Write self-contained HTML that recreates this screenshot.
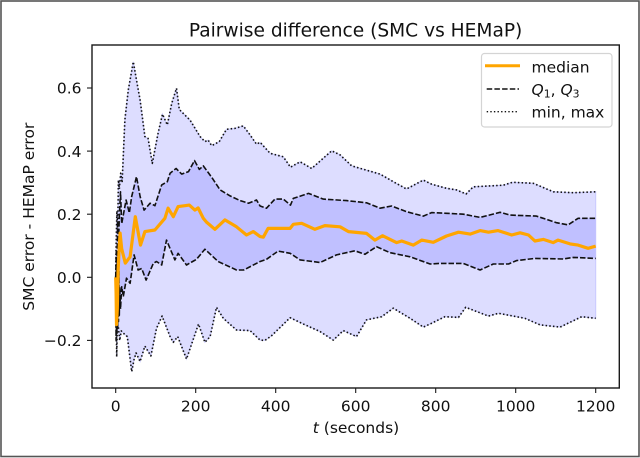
<!DOCTYPE html>
<html lang="en">
<head>
<meta charset="utf-8">
<title>Pairwise difference (SMC vs HEMaP)</title>
<style>
html,body{margin:0;padding:0;background:#fff;}
body{width:640px;height:458px;overflow:hidden;}
svg{display:block;filter:blur(0.35px);}
text{font-family:"DejaVu Sans","Liberation Sans",sans-serif;fill:#111;}
</style>
</head>
<body>
<svg id="chart" width="640" height="458" viewBox="0 0 640 458" xmlns="http://www.w3.org/2000/svg">
  <rect x="1" y="1" width="638" height="455.5" fill="#fff" stroke="#555" stroke-width="1.6"/>
  <g id="bands"></g>
  <g id="lines"></g>
  <rect x="92" y="45" width="527.3" height="343" fill="none" stroke="#1a1a1a" stroke-width="1.4"/>
  <g id="ticks"></g>
  <text x="355.6" y="36.7" text-anchor="middle" font-size="18.6">Pairwise difference (SMC vs HEMaP)</text>
  <text x="356" y="433" text-anchor="middle" font-size="15.5"><tspan font-style="italic">t</tspan> (seconds)</text>
  <text transform="translate(34,216.7) rotate(-90)" text-anchor="middle" font-size="15.5">SMC error - HEMaP error</text>
  <g>
    <rect x="481.5" y="53.5" width="130.5" height="73.5" rx="3" fill="#fff" fill-opacity="0.85" stroke="#d4d4d4" stroke-width="1.2"/>
    <line x1="485" y1="65.7" x2="520" y2="65.7" stroke="#ffa500" stroke-width="3"/>
    <text x="531.5" y="72.3" font-size="15.5">median</text>
    <line x1="486.7" y1="89" x2="519" y2="89" stroke="#111" stroke-width="1.4" stroke-dasharray="5.5,2.2"/>
    <text x="531.5" y="95" font-size="15.5"><tspan font-style="italic">Q</tspan><tspan font-size="10.8" dy="2.5">1</tspan><tspan dy="-2.5">, </tspan><tspan font-style="italic">Q</tspan><tspan font-size="10.8" dy="2.5">3</tspan></text>
    <line x1="486.7" y1="111.7" x2="519" y2="111.7" stroke="#111" stroke-width="1.4" stroke-dasharray="1.4,2.2"/>
    <text x="531.5" y="117.7" font-size="15.5">min, max</text>
  </g>
</svg>
<script>
var xTickLabels = [0, 200, 400, 600, 800, 1000, 1200];
var yTickLabels = [-0.2, 0, 0.2, 0.4, 0.6];

var maxTimes = [0,1,3,5,6.7,9,12.5,16,23,31.5,44,52,61,73,81,91.5,106,117,129,140,152,159,186,211,223,231,240,259,277,298,319,336,352,361,386,419,437,461,490,540,561,590,661,694,727,769,790,827,852,876,894,969,992,1044,1094,1144,1200];
var maxValues = [0,0.1,0.21,0.15,0.308,0.28,0.33,0.3,0.5,0.594,0.683,0.625,0.562,0.446,0.44,0.361,0.457,0.517,0.483,0.551,0.599,0.532,0.498,0.446,0.43,0.435,0.417,0.43,0.469,0.472,0.48,0.451,0.422,0.428,0.393,0.382,0.349,0.366,0.345,0.401,0.388,0.353,0.327,0.303,0.28,0.308,0.295,0.282,0.277,0.264,0.287,0.292,0.301,0.298,0.271,0.268,0.271];

var q3Times = [0,1.5,3,5,7,9,12,15,19,26,34,40,52,61,71,86,98,115,129,136,151,165,182,197,209,219,240,261,286,311,332,352,361,377,398,419,437,444,482,519,577,627,661,690,727,769,790,827,869,911,961,986,1052,1102,1131,1156,1200];
var q3Values = [0,0.08,0.03,0.17,0.11,0.192,0.271,0.17,0.197,0.245,0.204,0.256,0.319,0.256,0.213,0.235,0.227,0.293,0.303,0.33,0.345,0.327,0.335,0.37,0.342,0.353,0.317,0.277,0.258,0.243,0.235,0.245,0.226,0.219,0.248,0.248,0.229,0.25,0.266,0.248,0.243,0.236,0.219,0.226,0.208,0.194,0.205,0.203,0.2,0.19,0.206,0.197,0.194,0.173,0.166,0.187,0.187];

var medianTimes = [0,1,2,4,6,9,11,15,24,36,49,62,73,98,123,131,144,156,173,184,198,206,219,227,248,273,302,327,344,361,369,381,436,444,465,498,523,561,582,627,648,667,702,715,744,765,794,827,857,886,911,932,956,990,1011,1032,1048,1069,1094,1106,1136,1156,1181,1200];
var medianValues = [0,-0.05,-0.15,-0.1,0.02,0.1,0.14,0.09,0.045,0.065,0.192,0.102,0.145,0.15,0.187,0.219,0.192,0.224,0.227,0.229,0.213,0.22,0.187,0.175,0.152,0.182,0.16,0.134,0.145,0.129,0.127,0.155,0.155,0.168,0.171,0.152,0.164,0.16,0.145,0.139,0.118,0.132,0.11,0.115,0.102,0.118,0.111,0.131,0.143,0.137,0.148,0.143,0.148,0.134,0.141,0.134,0.115,0.12,0.11,0.118,0.106,0.102,0.092,0.099];

var q1Times = [0,1,2,3,4,5,6,7,8,9,10,12,15,19,27,36,46,56,65,76,94,102,115,127,148,156,177,202,223,256,302,320,361,377,406,436,461,511,552,598,623,652,686,736,786,811,869,911,944,982,1002,1048,1119,1144,1200];
var q1Values = [0,-0.2,0.04,-0.18,0.02,-0.16,0,-0.14,0.02,-0.12,-0.03,-0.1,-0.03,-0.061,-0.003,-0.019,0.071,0.023,0.028,-0.009,0.044,0.05,0.039,0.118,0.055,0.076,0.039,0.057,0.089,0.05,0.023,0.023,0.05,0.057,0.083,0.076,0.055,0.047,0.071,0.084,0.073,0.097,0.078,0.065,0.042,0.044,0.044,0.023,0.042,0.042,0.053,0.06,0.058,0.063,0.06];

var minTimes = [0,1,2.5,4,6.5,10,14,19,29,40,46,51,61,73,88,102,116,136,144,155,177,207,223,236,252,269,302,336,361,373,389,436,469,511,544,569,602,627,665,694,736,769,786,823,857,875,932,957,1023,1061,1111,1165,1200];
var minValues = [0,-0.1,-0.252,-0.15,-0.157,-0.2,-0.17,-0.177,-0.188,-0.299,-0.26,-0.24,-0.267,-0.218,-0.249,-0.162,-0.123,-0.188,-0.206,-0.188,-0.259,-0.148,-0.206,-0.188,-0.095,-0.13,-0.167,-0.169,-0.199,-0.2,-0.186,-0.128,-0.148,-0.172,-0.199,-0.169,-0.188,-0.135,-0.125,-0.098,-0.13,-0.158,-0.148,-0.125,-0.127,-0.095,-0.123,-0.114,-0.13,-0.151,-0.158,-0.125,-0.13];

var SVG_NS = 'http://www.w3.org/2000/svg';
function xScale(t) { return 115.7 + t * 0.4; }
function yScale(v) { return 277.3 - v * 315.5; }
function pts(ts, vs) {
  return ts.map(function (t, i) { return xScale(t).toFixed(1) + ',' + yScale(vs[i]).toFixed(1); });
}
function make(tag, attrs, parent) {
  var el = document.createElementNS(SVG_NS, tag);
  for (var k in attrs) el.setAttribute(k, attrs[k]);
  parent.appendChild(el);
  return el;
}

var bands = document.getElementById('bands');
var outerBand = make('polygon', {
  points: pts(maxTimes, maxValues).concat(pts(minTimes, minValues).reverse()).join(' '),
  fill: '#ddddff', stroke: '#c9c9ff', 'stroke-width': 1
}, bands);


var innerBand = make('polygon', {
  points: pts(q3Times, q3Values).concat(pts(q1Times, q1Values).reverse()).join(' '),
  fill: '#c0c0ff'
}, bands);



var lines = document.getElementById('lines');
function line(ts, vs, stroke, width, dash) {
  var attrs = { points: pts(ts, vs).join(' '), fill: 'none', stroke: stroke, 'stroke-width': width, 'stroke-linejoin': 'round' };
  if (dash) attrs['stroke-dasharray'] = dash;
  return make('polyline', attrs, lines);
}
var maxLine = line(maxTimes, maxValues, '#111', 1.6, '1.5,2.2');


var minLine = line(minTimes, minValues, '#111', 1.6, '1.5,2.2');


var q3Line = line(q3Times, q3Values, '#111', 1.6, '5.5,2');


var q1Line = line(q1Times, q1Values, '#111', 1.6, '5.5,2');


var medianLine = line(medianTimes, medianValues, '#ffa500', 3.2, '');



var ticks = document.getElementById('ticks');
xTickLabels.forEach(function (t) {
  var x = xScale(t);
  var tick = make('line', { x1: x, x2: x, y1: 388, y2: 393, stroke: '#1a1a1a', 'stroke-width': 1.1 }, ticks);
  
  
  var label = make('text', { x: x, y: 411.7, 'text-anchor': 'middle', 'font-size': 15.5 }, ticks);
  
  
  label.textContent = String(t);
});
yTickLabels.forEach(function (v) {
  var y = yScale(v);
  var tick = make('line', { x1: 87, x2: 92, y1: y, y2: y, stroke: '#1a1a1a', 'stroke-width': 1.1 }, ticks);
  
  
  var label = make('text', { x: 81.5, y: y + 5.7, 'text-anchor': 'end', 'font-size': 15.5 }, ticks);
  
  
  label.textContent = (v < 0 ? '\u2212' : '') + Math.abs(v).toFixed(1);
});
</script>
</body>
</html>
